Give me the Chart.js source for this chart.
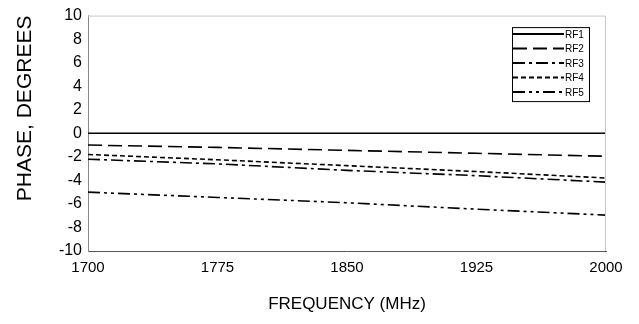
<!DOCTYPE html>
<html>
<head>
<meta charset="utf-8">
<script src="https://cdn.jsdelivr.net/npm/chart.js@4"></script>
<style>
  html, body { margin: 0; padding: 0; background: #fff; }
  #wrap { width: 639px; height: 324px; }
</style>
</head>
<body>
<div id="wrap"><canvas id="myChart" width="639" height="324"></canvas></div>
<script>
// frequency points (MHz) and phase readings (degrees)
var freqs = [1700, 1775, 1850, 1925, 2000];
var rf1 = [0, 0, 0, 0, 0];
var rf2 = [-1.0, -1.2, -1.45, -1.7, -1.95];
var rf3 = [-2.2, -2.6, -3.15, -3.6, -4.15];
var rf4 = [-1.8, -2.25, -2.75, -3.25, -3.8];
var rf5 = [-5.0, -5.45, -5.9, -6.45, -6.95];
var seriesNames = ['RF1', 'RF2', 'RF3', 'RF4', 'RF5'];
var yTicks = [-10, -8, -6, -4, -2, 0, 2, 4, 6, 8, 10];
var xTicks = [1700, 1775, 1850, 1925, 2000];

var dashes = [[], [14, 6], [12, 4, 3, 4], [5, 3], [12, 4, 3, 4, 3, 4]];

function pts(vals) {
  return freqs.map(function (f, i) { return {x: f, y: vals[i]}; });
}

var allSeries = [rf1, rf2, rf3, rf4, rf5];
var datasets = allSeries.map(function (vals, i) {
  return {
    label: seriesNames[i],
    data: pts(vals),
    borderColor: '#000',
    borderWidth: 1.6,
    borderDash: dashes[i],
    pointRadius: 0,
    fill: false,
    tension: 0
  };
});

// light frame on top/right of plot + boxed legend inside the plot
var framePlugin = {
  id: 'frame',
  afterDraw: function (chart) {
    var ctx = chart.ctx, a = chart.chartArea;
    ctx.save();
    ctx.strokeStyle = '#c8c8c8';
    ctx.lineWidth = 1;
    ctx.beginPath();
    ctx.moveTo(a.left, a.top + 0.5);
    ctx.lineTo(a.right - 0.5, a.top + 0.5);
    ctx.lineTo(a.right - 0.5, a.bottom);
    ctx.stroke();

    // legend
    var bx = a.right - 94, by = a.top + 11.5, bw = 77, bh = 74;
    ctx.fillStyle = '#fff';
    ctx.fillRect(bx, by, bw, bh);
    ctx.strokeStyle = '#000';
    ctx.setLineDash([]);
    ctx.strokeRect(bx + 0.5, by + 0.5, bw, bh);
    ctx.font = '10px "Liberation Sans", Arial, sans-serif';
    ctx.textBaseline = 'middle';
    ctx.textAlign = 'left';
    chart.data.datasets.forEach(function (ds, i) {
      var yy = by + 7 + i * 14.5;
      ctx.strokeStyle = '#000';
      ctx.lineWidth = 2;
      ctx.setLineDash(ds.borderDash);
      ctx.beginPath();
      ctx.moveTo(bx + 1, yy);
      ctx.lineTo(bx + 52, yy);
      ctx.stroke();
      ctx.setLineDash([]);
      ctx.fillStyle = '#000';
      ctx.fillText(ds.label, bx + 53, yy + 1);
    });
    ctx.restore();
  }
};

var ctx = document.getElementById('myChart').getContext('2d');
var chart = new Chart(ctx, {
  type: 'line',
  data: { datasets: datasets },
  options: {
    responsive: false,
    animation: false,
    layout: { padding: { top: 12, right: 33, left: 0, bottom: 0 } },
    plugins: {
      legend: { display: false },
      tooltip: { enabled: false }
    },
    scales: {
      x: {
        type: 'linear',
        min: 1700,
        max: 2000,
        afterBuildTicks: function (s) { s.ticks = xTicks.map(function (v) { return {value: v}; }); },
        afterFit: function (s) { s.height = 73; },
        grid: { display: false, drawTicks: false },
        border: { display: true, color: '#555', width: 1 },
        ticks: {
          color: '#000',
          padding: 8,
          maxRotation: 0,
          callback: function (v) { return String(v); },
          font: { family: '"Liberation Sans", Arial, sans-serif', size: 15 }
        },
        title: {
          display: true,
          text: 'FREQUENCY (MHz)',
          color: '#000',
          padding: { top: 0, bottom: 9 },
          font: { family: '"Liberation Sans", Arial, sans-serif', size: 17 }
        }
      },
      y: {
        min: -10,
        max: 10,
        afterBuildTicks: function (s) { s.ticks = yTicks.map(function (v) { return {value: v}; }); },
        afterFit: function (s) { s.width = 88; },
        grid: { display: false, drawTicks: false },
        border: { display: true, color: '#888', width: 1 },
        ticks: {
          color: '#000',
          padding: 6,
          font: { family: '"Liberation Sans", Arial, sans-serif', size: 16 }
        },
        title: {
          display: true,
          text: 'PHASE, DEGREES',
          align: 'end',
          color: '#000',
          padding: { top: 13, bottom: 0 },
          font: { family: '"Liberation Sans", Arial, sans-serif', size: 21 }
        }
      }
    }
  },
  plugins: [framePlugin]
});
</script>
</body>
</html>
